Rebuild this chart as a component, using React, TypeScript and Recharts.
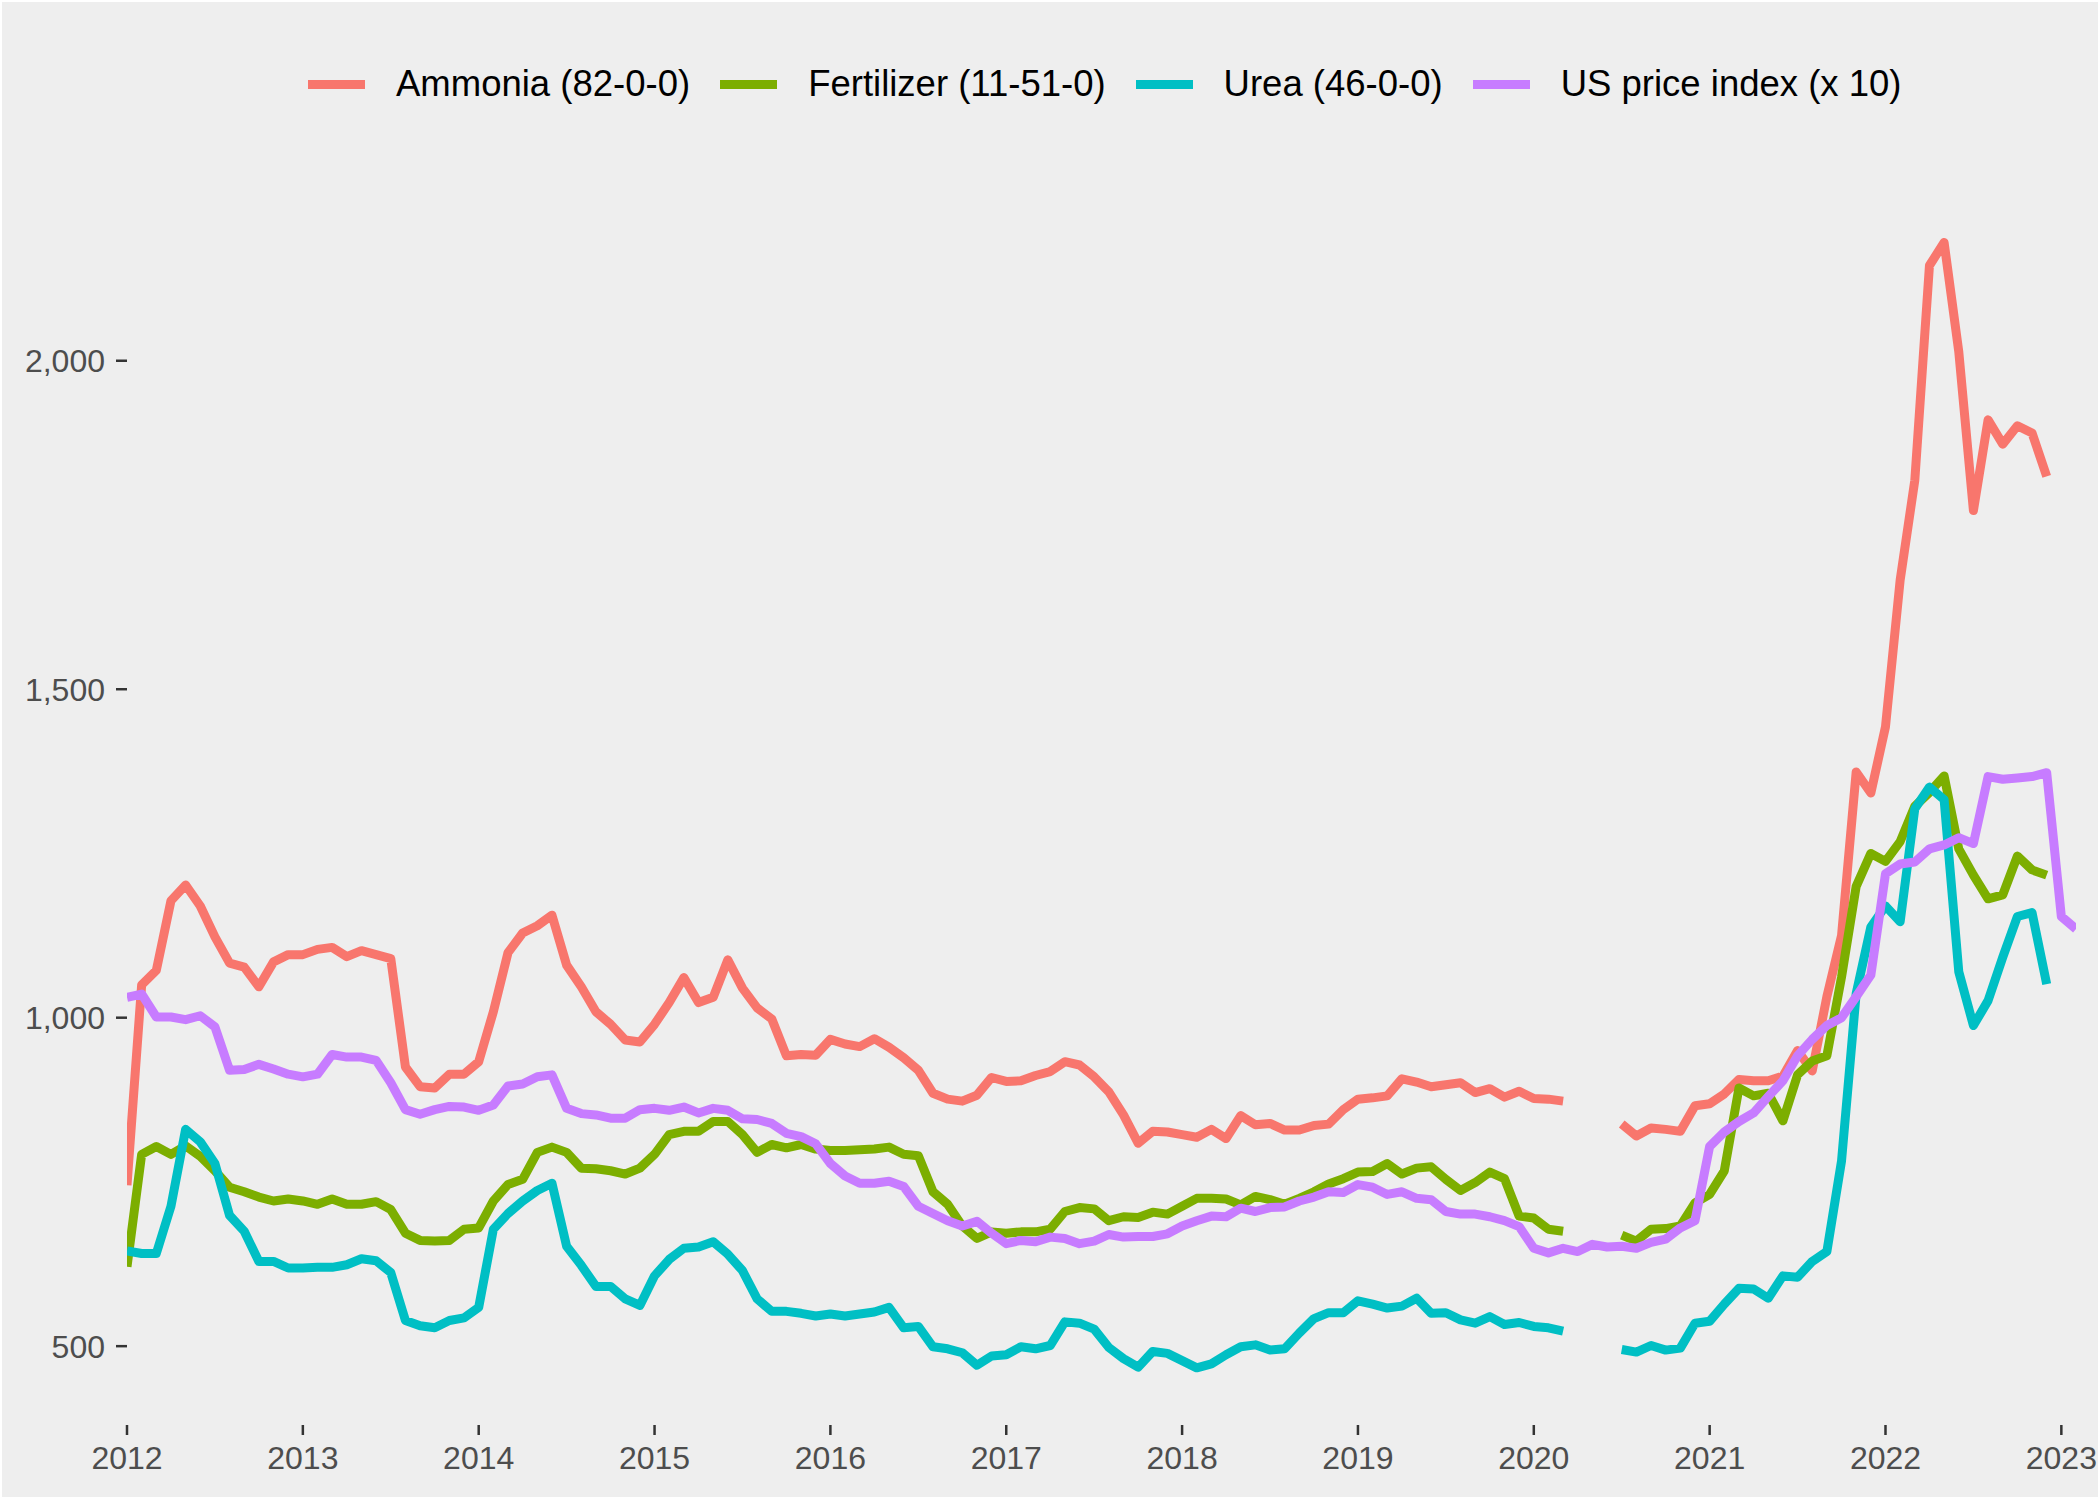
import { LineChart, Line, XAxis, YAxis } from 'recharts';

// monthly observations, Jan 2012 .. Feb 2023
const startYear = 2012;
const monthCount = 134;

const ammonia = [
  745, 1050, 1072, 1178, 1202, 1170, 1123, 1083, 1077, 1047, 1085, 1096,
  1096, 1104, 1107, 1093, 1102, 1096, 1090, 925, 895, 893, 914, 914,
  933, 1009, 1099, 1129, 1140, 1156, 1080, 1047, 1009, 990, 966, 963,
  990, 1023, 1061, 1023, 1031, 1088, 1045, 1015, 998, 942, 944, 943,
  967, 960, 956, 968, 955, 939, 920, 885, 876, 873, 882, 909,
  903, 904, 912, 918, 933, 928, 910, 887, 852, 809, 827, 826,
  822, 818, 830, 816, 851, 837, 839, 829, 829, 836, 838, 860,
  876, 878, 881, 907, 902, 895, 898, 901, 886, 892, 879, 888,
  877, 876, 873, null, null, null, 838, 820, 832, 830, 827, 866,
  869, 884, 906, 904, 904, 911, 950, 919, 1032, 1125, 1374, 1342,
  1443, 1666, 1818, 2145, 2180, 2014, 1772, 1910, 1873, 1901, 1890, 1824,
  null, null,
];

const fertilizer = [
  621, 792, 804, 792, 805, 789, 767, 742, 735, 727, 721, 724,
  721, 716, 724, 716, 716, 720, 708, 672, 661, 660, 661, 678,
  680, 721, 746, 754, 795, 803, 795, 771, 770, 767, 762, 771,
  792, 822, 827, 827, 842, 842, 822, 795, 807, 802, 807, 800,
  798, 798, 799, 800, 803, 792, 790, 735, 716, 683, 664, 674,
  672, 674, 674, 678, 705, 711, 709, 691, 697, 696, 704, 701,
  713, 725, 725, 724, 715, 728, 723, 716, 725, 735, 747, 755,
  765, 766, 778, 762, 771, 773, 754, 737, 749, 765, 755, 698,
  695, 678, 675, null, null, null, 669, 660, 678, 679, 683, 718,
  731, 767, 893, 881, 885, 843, 913, 934, 942, 1062, 1200, 1250,
  1238, 1268, 1322, 1343, 1368, 1257, 1217, 1181, 1187, 1246, 1225, 1217,
  null, null,
];

const urea = [
  645, 641, 641, 713, 830, 811, 778, 699, 675, 629, 629, 619,
  619, 620, 620, 624, 633, 630, 612, 539, 531, 528, 539, 543,
  559, 678, 702, 721, 737, 748, 652, 623, 591, 591, 572, 562,
  607, 632, 649, 651, 659, 640, 615, 572, 553, 553, 550, 546,
  549, 546, 549, 552, 559, 528, 530, 499, 496, 490, 471, 485,
  487, 499, 496, 501, 537, 535, 526, 498, 481, 468, 492, 489,
  478, 467, 473, 487, 499, 502, 494, 496, 520, 542, 551, 551,
  569, 564, 558, 561, 573, 550, 551, 540, 535, 545, 533, 536,
  530, 528, 523, null, null, null, 495, 491, 501, 494, 497, 535,
  538, 564, 588, 587, 573, 607, 605, 629, 644, 782, 1037, 1138,
  1170, 1146, 1318, 1351, 1332, 1070, 988, 1026, 1092, 1154, 1160, 1051,
  null, null,
];

const usIndex = [
  1031, 1036, 1001, 1001, 997, 1003, 986, 920, 921, 929, 922, 914,
  910, 914, 944, 940, 940, 935, 901, 860, 853, 860, 865, 864,
  859, 867, 896, 899, 910, 913, 862, 854, 852, 847, 847, 860,
  862, 859, 864, 855, 862, 859, 846, 845, 839, 824, 819, 808,
  778, 759, 748, 748, 751, 743, 713, 702, 691, 683, 690, 672,
  656, 661, 659, 666, 664, 656, 660, 670, 666, 667, 667, 671,
  683, 691, 698, 697, 710, 705, 711, 712, 721, 727, 735, 734,
  746, 742, 731, 735, 725, 723, 705, 701, 701, 697, 691, 682,
  649, 642, 649, 644, 655, 651, 652, 649, 658, 663, 680, 691,
  804, 826, 842, 855, 880, 904, 942, 967, 988, 1000, 1032, 1065,
  1219, 1234, 1237, 1257, 1263, 1274, 1265, 1367, 1363, 1365, 1367, 1373,
  1154, 1135,
];

const yearTicks = [2012, 2013, 2014, 2015, 2016, 2017, 2018, 2019, 2020, 2021, 2022, 2023];
const valueTicks = [500, 1000, 1500, 2000];

const series = [
  { key: 'ammonia', label: 'Ammonia (82-0-0)', color: '#F8766D', values: ammonia },
  { key: 'fertilizer', label: 'Fertilizer (11-51-0)', color: '#7CAE00', values: fertilizer },
  { key: 'urea', label: 'Urea (46-0-0)', color: '#00BFC4', values: urea },
  { key: 'us', label: 'US price index (x 10)', color: '#C77CFF', values: usIndex },
];

const rows = Array.from({ length: monthCount }, (_, i) => {
  const row: Record<string, number | null> = { t: startYear + i / 12 };
  series.forEach((s) => {
    row[s.key] = s.values[i] ?? null;
  });
  return row;
});

const font = '"Liberation Sans", Arial, Helvetica, sans-serif';

const Legend = () => (
  <div
    style={{
      position: 'absolute',
      left: 308,
      top: 61,
      height: 46,
      display: 'flex',
      alignItems: 'center',
      fontFamily: font,
      fontSize: 36.5,
      color: '#000',
      whiteSpace: 'nowrap',
    }}
  >
    {series.map((s, i) => (
      <div key={s.key} style={{ display: 'flex', alignItems: 'center', marginLeft: i === 0 ? 0 : 30 }}>
        <div style={{ width: 57, height: 9, background: s.color, marginRight: 31 }} />
        <span>{s.label}</span>
      </div>
    ))}
  </div>
);

export default function App() {
  return (
    <div style={{ position: 'relative', width: 2100, height: 1499, background: '#ffffff' }}>
      <style>{'body{margin:0}'}</style>
      <div style={{ position: 'absolute', left: 2, top: 2, width: 2096, height: 1495, background: '#EEEEEE' }} />
      <Legend />
      <div style={{ position: 'absolute', left: 0, top: 0 }}>
        <LineChart width={2100} height={1499} data={rows} margin={{ top: 186, right: 24, bottom: 0, left: 0 }}>
          <XAxis
            dataKey="t"
            type="number"
            domain={[startYear, startYear + (monthCount - 1) / 12]}
            allowDataOverflow
            ticks={yearTicks}
            tickFormatter={(v) => String(Math.round(v))}
            height={74}
            axisLine={false}
            tickSize={10}
            tickMargin={11}
            tickLine={{ stroke: '#333333', strokeWidth: 2.5 }}
            tick={{ fill: '#4D4D4D', fontSize: 32, fontFamily: font }}
            interval={0}
          />
          <YAxis
            type="number"
            domain={[380, 2266]}
            allowDataOverflow
            ticks={valueTicks}
            tickFormatter={(v) => v.toLocaleString('en-US')}
            width={127}
            axisLine={false}
            tickSize={11}
            tickMargin={11}
            tickLine={{ stroke: '#333333', strokeWidth: 2.5 }}
            tick={{ fill: '#4D4D4D', fontSize: 32, fontFamily: font }}
            interval={0}
          />
          {series.map((s) => (
            <Line
              key={s.key}
              type="linear"
              dataKey={s.key}
              stroke={s.color}
              strokeWidth={9}
              strokeLinejoin="round"
              dot={false}
              activeDot={false}
              connectNulls={false}
              isAnimationActive={false}
            />
          ))}
        </LineChart>
      </div>
    </div>
  );
}
